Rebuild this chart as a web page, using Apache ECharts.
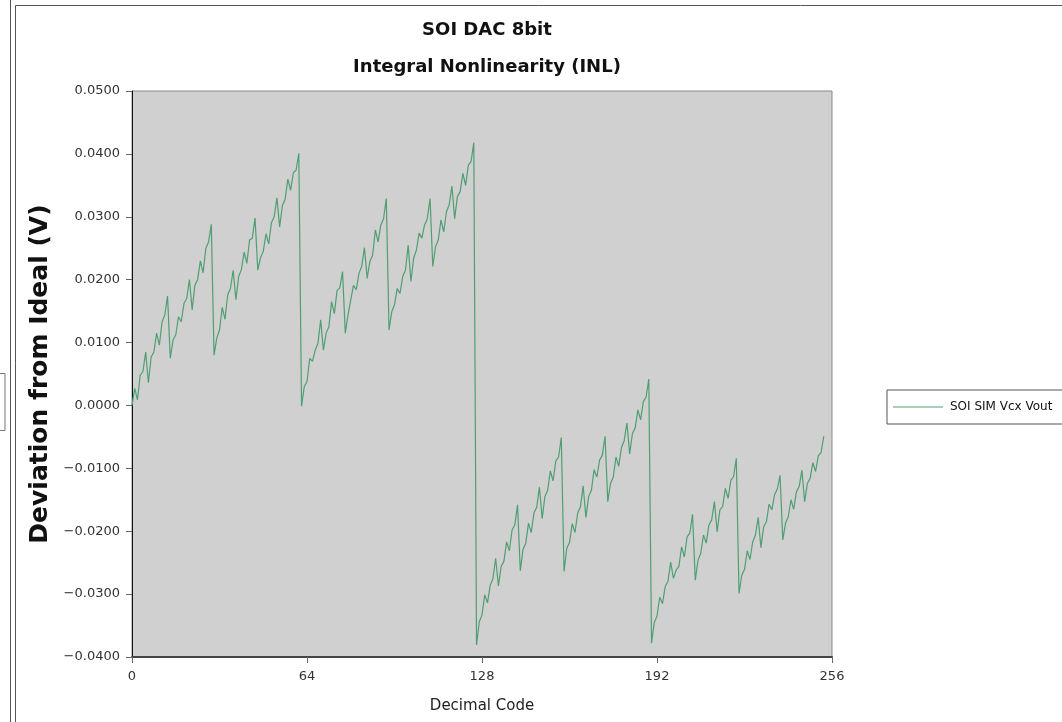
<!DOCTYPE html>
<html>
<head>
<meta charset="utf-8">
<script src="https://cdn.jsdelivr.net/npm/echarts@6.0.0/dist/echarts.min.js"></script>
<style>
  html, body { margin: 0; padding: 0; background: #fff; }
  #chart { width: 1062px; height: 722px; }
</style>
</head>
<body>
<div id="chart"></div>
<script>
// INL values, one per decimal code starting at 0
var inl = [
  0.0000, 0.0027, 0.0009, 0.0048, 0.0054, 0.0085, 0.0036, 0.0077,
  0.0085, 0.0115, 0.0096, 0.0133, 0.0144, 0.0174, 0.0075, 0.0104,
  0.0112, 0.0141, 0.0133, 0.0162, 0.0170, 0.0200, 0.0152, 0.0191,
  0.0200, 0.0230, 0.0211, 0.0250, 0.0260, 0.0288, 0.0080, 0.0107,
  0.0120, 0.0156, 0.0137, 0.0176, 0.0186, 0.0215, 0.0168, 0.0205,
  0.0216, 0.0244, 0.0226, 0.0263, 0.0266, 0.0298, 0.0215, 0.0235,
  0.0245, 0.0273, 0.0257, 0.0291, 0.0300, 0.0330, 0.0284, 0.0318,
  0.0328, 0.0360, 0.0342, 0.0370, 0.0374, 0.0401, -0.0001, 0.0030,
  0.0038, 0.0075, 0.0070, 0.0088, 0.0099, 0.0136, 0.0088, 0.0115,
  0.0125, 0.0165, 0.0146, 0.0183, 0.0187, 0.0213, 0.0115, 0.0144,
  0.0168, 0.0191, 0.0184, 0.0210, 0.0221, 0.0251, 0.0202, 0.0229,
  0.0239, 0.0279, 0.0260, 0.0287, 0.0297, 0.0329, 0.0120, 0.0149,
  0.0160, 0.0186, 0.0178, 0.0205, 0.0215, 0.0255, 0.0197, 0.0234,
  0.0247, 0.0274, 0.0266, 0.0287, 0.0297, 0.0329, 0.0221, 0.0252,
  0.0263, 0.0295, 0.0276, 0.0308, 0.0319, 0.0349, 0.0297, 0.0332,
  0.0340, 0.0369, 0.0350, 0.0382, 0.0388, 0.0418, -0.0381, -0.0344,
  -0.0333, -0.0301, -0.0314, -0.0286, -0.0275, -0.0243, -0.0287, -0.0256,
  -0.0248, -0.0217, -0.0231, -0.0198, -0.0190, -0.0158, -0.0263, -0.0229,
  -0.0219, -0.0187, -0.0202, -0.0171, -0.0162, -0.0130, -0.0180, -0.0145,
  -0.0135, -0.0104, -0.0120, -0.0088, -0.0082, -0.0051, -0.0264, -0.0227,
  -0.0218, -0.0188, -0.0202, -0.0171, -0.0161, -0.0128, -0.0178, -0.0145,
  -0.0135, -0.0102, -0.0114, -0.0087, -0.0079, -0.0049, -0.0153, -0.0124,
  -0.0114, -0.0082, -0.0097, -0.0067, -0.0056, -0.0028, -0.0077, -0.0045,
  -0.0036, -0.0007, -0.0023, 0.0006, 0.0013, 0.0042, -0.0378, -0.0345,
  -0.0335, -0.0305, -0.0315, -0.0288, -0.0280, -0.0249, -0.0275, -0.0262,
  -0.0256, -0.0225, -0.0241, -0.0209, -0.0203, -0.0173, -0.0278, -0.0246,
  -0.0235, -0.0206, -0.0219, -0.0190, -0.0182, -0.0153, -0.0201, -0.0166,
  -0.0161, -0.0132, -0.0148, -0.0119, -0.0113, -0.0084, -0.0299, -0.0270,
  -0.0261, -0.0231, -0.0245, -0.0217, -0.0206, -0.0178, -0.0226, -0.0193,
  -0.0185, -0.0157, -0.0166, -0.0142, -0.0133, -0.0111, -0.0214, -0.0187,
  -0.0177, -0.0150, -0.0165, -0.0137, -0.0129, -0.0103, -0.0153, -0.0124,
  -0.0116, -0.0091, -0.0105, -0.0080, -0.0075, -0.0049
];
var seriesName = 'SOI SIM Vcx Vout';
var xTicks = [0, 64, 128, 192, 256];
var yTicks = [-0.04, -0.03, -0.02, -0.01, 0, 0.01, 0.02, 0.03, 0.04, 0.05];

var points = inl.map(function (v, i) { return [i, v]; });

var chart = echarts.init(document.getElementById('chart'));

var option = {
  backgroundColor: '#fff',
  animation: false,
  textStyle: { fontFamily: 'DejaVu Sans' },
  title: [{
    text: 'SOI DAC 8bit',
    left: 482, top: 16, textAlign: 'center',
    textStyle: { fontSize: 18, fontWeight: 'bold', color: '#111' }
  }, {
    text: 'Integral Nonlinearity (INL)',
    left: 482, top: 53, textAlign: 'center',
    textStyle: { fontSize: 18, fontWeight: 'bold', color: '#111' }
  }],
  legend: {
    left: 887, top: 390,
    orient: 'vertical',
    padding: [11, 20, 11, 6],
    borderColor: '#555',
    borderWidth: 1,
    icon: 'rect',
    itemWidth: 50,
    itemHeight: 1,
    itemGap: 4,
    textStyle: { fontSize: 12, color: '#111', padding: [0, 0, 0, 2] },
    data: [seriesName]
  },
  grid: {
    left: 132, right: 230, top: 91, bottom: 65,
    show: true,
    backgroundColor: '#d0d0d0',
    borderColor: '#8a8a8a',
    borderWidth: 1
  },
  xAxis: {
    type: 'value',
    min: xTicks[0],
    max: xTicks[xTicks.length - 1],
    interval: 64,
    name: 'Decimal Code',
    nameLocation: 'middle',
    nameGap: 42,
    nameTextStyle: { fontSize: 15, color: '#222' },
    axisLine: { onZero: false, lineStyle: { color: '#444', width: 2 } },
    axisTick: { show: true, length: 6, lineStyle: { color: '#666' } },
    axisLabel: { fontSize: 13, color: '#333', margin: 13 },
    splitLine: { show: false }
  },
  yAxis: {
    type: 'value',
    min: yTicks[0],
    max: yTicks[yTicks.length - 1],
    interval: 0.01,
    name: 'Deviation from Ideal (V)',
    nameLocation: 'middle',
    nameGap: 76,
    nameTextStyle: { fontSize: 25, fontWeight: 'bold', color: '#111' },
    axisLine: { show: true, lineStyle: { color: '#111', width: 1 } },
    axisTick: { show: true, length: 6, lineStyle: { color: '#666' } },
    axisLabel: {
      fontSize: 13, color: '#333', margin: 12,
      formatter: function (v) {
        var s = Math.abs(v).toFixed(4);
        return (v < -1e-9 ? '\u2212' : '') + s;
      }
    },
    splitLine: { show: false }
  },
  series: [{
    name: seriesName,
    type: 'line',
    symbol: 'none',
    color: '#4f9f72',
    lineStyle: { width: 1.2, color: '#4f9f72' },
    data: points
  }],
  graphic: [
    // window frame bits around the chart panel
    { type: 'line', shape: { x1: 10.5, y1: 0, x2: 10.5, y2: 722 }, style: { stroke: '#555', lineWidth: 1 } },
    { type: 'line', shape: { x1: 15.5, y1: 5.5, x2: 15.5, y2: 722 }, style: { stroke: '#555', lineWidth: 1 } },
    { type: 'line', shape: { x1: 15.5, y1: 5.5, x2: 1062, y2: 5.5 }, style: { stroke: '#555', lineWidth: 1 } },
    { type: 'rect', shape: { x: -2, y: 373.5, width: 7, height: 57 }, style: { fill: '#fff', stroke: '#777', lineWidth: 1 } }
  ]
};

chart.setOption(option);
</script>
</body>
</html>
